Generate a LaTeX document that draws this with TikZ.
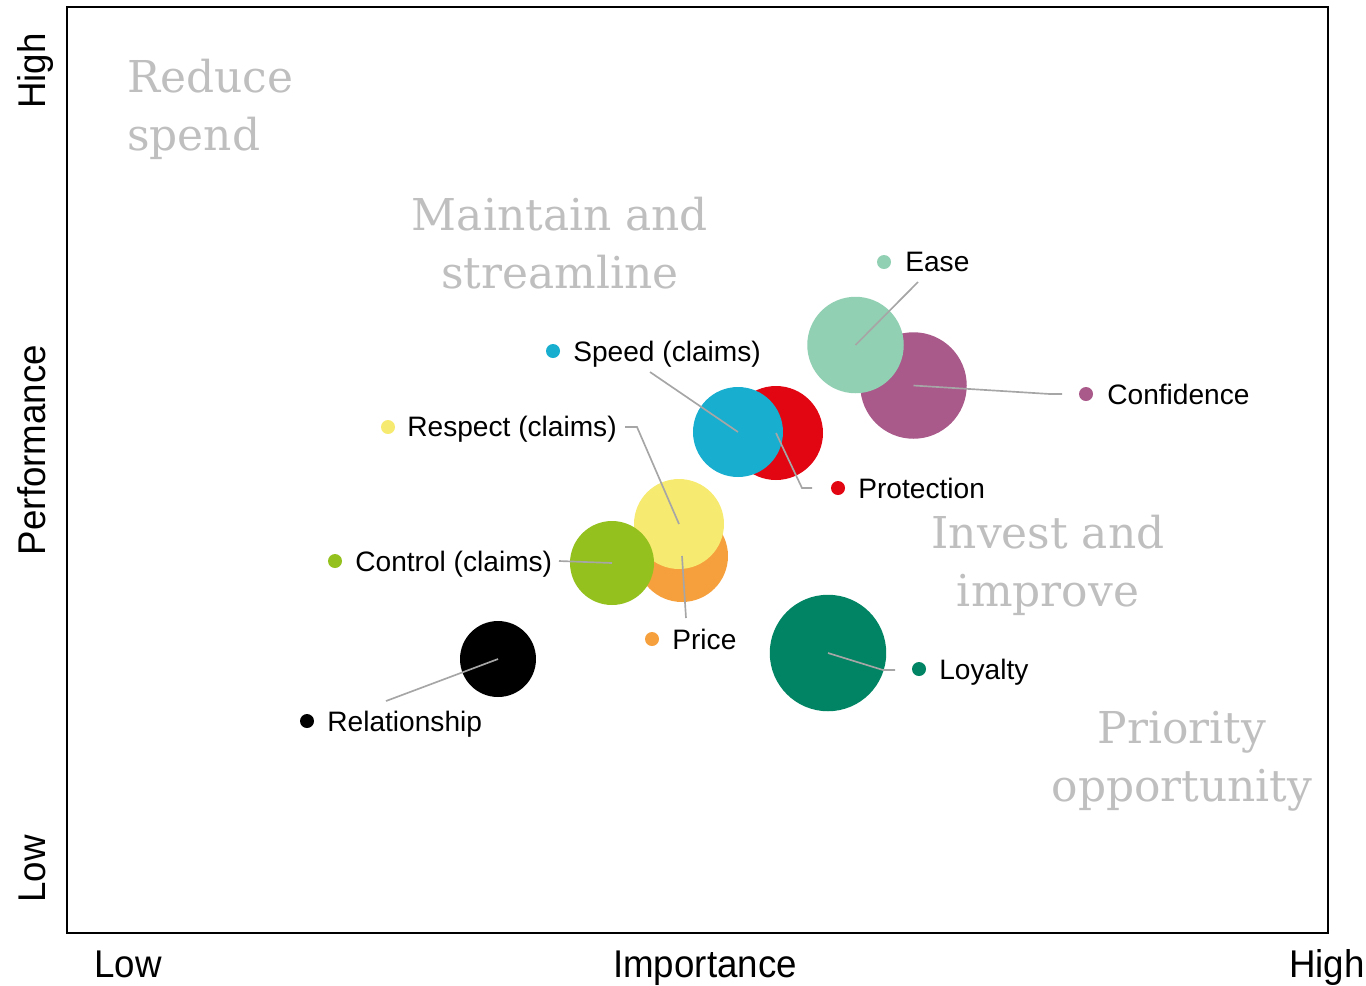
\documentclass[tikz,border=0pt]{standalone}
\usepackage{fontspec}
\setmainfont{Liberation Sans}
\newfontfamily\slabfont{DejaVu Serif}
\definecolor{cease}{HTML}{92D0B4}
\definecolor{cconf}{HTML}{A9598A}
\definecolor{cprot}{HTML}{E20613}
\definecolor{cspeed}{HTML}{17AECF}
\definecolor{cprice}{HTML}{F5A03C}
\definecolor{cresp}{HTML}{F7EA70}
\definecolor{cctrl}{HTML}{95C11F}
\definecolor{crel}{HTML}{000000}
\definecolor{cloy}{HTML}{008463}
\definecolor{cleader}{HTML}{A6A6A6}
\definecolor{czone}{HTML}{BFBFBF}
\tikzset{
  bubble/.style={circle, inner sep=0pt, draw=none},
  dotmark/.style={circle, inner sep=0pt, minimum size=0.28cm, draw=none},
  leader/.style={draw=cleader, line width=0.95pt},
  lbl/.style={anchor=west, inner sep=0pt, text height=0.72em, text depth=0pt, font=\fontsize{16}{19}\selectfont},
  axlbl/.style={inner sep=0pt, text height=0.72em, text depth=0pt, font=\fontsize{22}{26}\selectfont},
  zone/.style={inner sep=0pt, text=czone, font=\slabfont\fontsize{25}{33}\selectfont}
}
\begin{document}
\begin{tikzpicture}[x=0.02cm,y=-0.02cm]
\useasboundingbox (0,0) rectangle (1366,985);
% frame
\draw[line width=1pt] (67,7) rectangle (1328,933);
% zone texts
\node[zone, anchor=west, align=left] (zreduce) at (127,109) {Reduce\\spend};
\node[zone, align=center] (zmaintain) at (560,243) {Maintain and\\streamline};
\node[zone, align=center] (zinvest) at (1048,565) {Invest and\\improve};
\node[zone, align=center] (zpriority) at (1182,761) {Priority\\opportunity};
% bubbles
\node[bubble, fill=cconf, minimum size=2.13cm] (bconf) at (913.5,385.5) {};
\node[bubble, fill=cease, minimum size=1.93cm] (bease) at (855.5,345) {};
\node[bubble, fill=cprot, minimum size=1.88cm] (bprot) at (776,433) {};
\node[bubble, fill=cspeed, minimum size=1.8cm] (bspeed) at (738,432) {};
\node[bubble, fill=cprice, minimum size=1.84cm] (bprice) at (682,556) {};
\node[bubble, fill=cresp, minimum size=1.8cm] (bresp) at (679,524) {};
\node[bubble, fill=cctrl, minimum size=1.68cm] (bctrl) at (612,563) {};
\node[bubble, fill=crel, minimum size=1.52cm] (brel) at (498,659) {};
\node[bubble, fill=cloy, minimum size=2.33cm] (bloy) at (828,653) {};
% leader end coordinates
\coordinate (eease) at (918,282);
\coordinate (cconfa) at (1050,394);
\coordinate (econf) at (1062,394);
\coordinate (espeed) at (650,372);
\coordinate (cprota) at (802,488);
\coordinate (eprot) at (812,488);
\coordinate (crespa) at (637,427);
\coordinate (eresp) at (625,427);
\coordinate (ectrl) at (559,561);
\coordinate (eprice) at (686,618);
\coordinate (erel) at (386,701);
\coordinate (cloya) at (883,670);
\coordinate (eloy) at (895,670);
% leaders
\draw[leader] (bease.center) -- (eease);
\draw[leader] (bconf.center) -- (cconfa) -- (econf);
\draw[leader] (bspeed.center) -- (espeed);
\draw[leader] (bprot.center) -- (cprota) -- (eprot);
\draw[leader] (bresp.center) -- (crespa) -- (eresp);
\draw[leader] (bctrl.center) -- (ectrl);
\draw[leader] (bprice.center) -- (eprice);
\draw[leader] (brel.center) -- (erel);
\draw[leader] (bloy.center) -- (cloya) -- (eloy);
% label dots and texts
\node[dotmark, fill=cease] (dease) at (884,262) {};
\node[lbl] (tease) at (905,265) {Ease};
\node[dotmark, fill=cconf] (dconf) at (1086,394) {};
\node[lbl] (tconf) at (1107,398) {Confidence};
\node[dotmark, fill=cspeed] (dspeed) at (553,351) {};
\node[lbl] (tspeed) at (573,355) {Speed (claims)};
\node[dotmark, fill=cprot] (dprot) at (838,488) {};
\node[lbl] (tprot) at (858,492) {Protection};
\node[dotmark, fill=cresp] (dresp) at (388,427) {};
\node[lbl] (tresp) at (407,430) {Respect (claims)};
\node[dotmark, fill=cctrl] (dctrl) at (335,561) {};
\node[lbl] (tctrl) at (355,565) {Control (claims)};
\node[dotmark, fill=cprice] (dprice) at (652,639) {};
\node[lbl] (tprice) at (672,643) {Price};
\node[dotmark, fill=crel] (drel) at (307,721) {};
\node[lbl] (trel) at (327,725) {Relationship};
\node[dotmark, fill=cloy] (dloy) at (919,669) {};
\node[lbl] (tloy) at (939,673) {Loyalty};
% axis labels
\node[axlbl] (xlow) at (128,971) {\scalebox{0.95}[1]{Low}};
\node[axlbl] (ximp) at (705,971) {\scalebox{0.95}[1]{Importance}};
\node[axlbl] (xhigh) at (1327,971) {\scalebox{0.95}[1]{High}};
\node[axlbl, rotate=90] (ylow) at (39,869) {\scalebox{0.95}[1]{Low}};
\node[axlbl, rotate=90] (yperf) at (39,450) {\scalebox{0.95}[1]{Performance}};
\node[axlbl, rotate=90] (yhigh) at (39,71) {\scalebox{0.95}[1]{High}};
\end{tikzpicture}
\end{document}
